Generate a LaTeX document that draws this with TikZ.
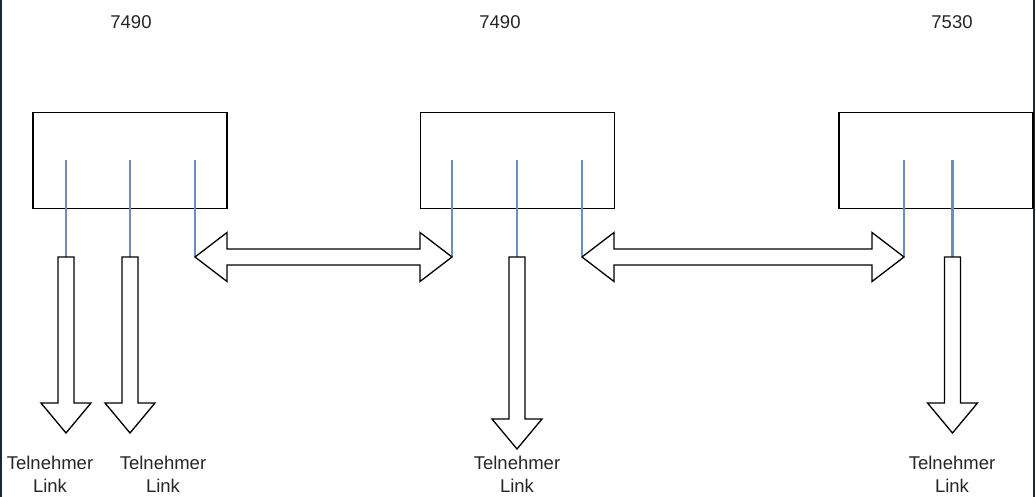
\documentclass[tikz,border=0pt]{standalone}
\usepackage{fontspec}
\setmainfont{Liberation Sans}
\usepackage{xcolor}
\usepackage{tikz}
\usetikzlibrary{calc}

\definecolor{portblue}{HTML}{6C8EBF}
\definecolor{framenavy}{HTML}{1C2535}

\tikzset{
  unit/.style={draw,line width=1.4pt,minimum width=194pt,minimum height=96pt,inner sep=0pt},
  port/.style={portblue,line width=2.6pt},
  blockarrow/.style={draw=black,line width=1.3pt,fill=white,line join=miter},
  lbl/.style={text=black!85,font=\fontsize{18.5}{23}\selectfont,align=center,inner sep=0pt}
}

% block arrow pointing down from #1, shaft length #2
\newcommand{\linkarrow}[2]{%
  \draw[blockarrow] (#1) ++(-8,0) -- ++(0,#2) -- ++(-17,0) -- ++(25,30)
    -- ++(25,-30) -- ++(-17,0) -- ++(0,-#2) -- cycle;}
% double block arrow between #1 and #2
\newcommand{\trunkarrow}[2]{%
  \draw[blockarrow] (#1) -- ($(#1)+(32,-24.5)$) -- ($(#1)+(32,-8)$)
    -- ($(#2)+(-32,-8)$) -- ($(#2)+(-32,-24.5)$) -- (#2)
    -- ($(#2)+(-32,24.5)$) -- ($(#2)+(-32,8)$) -- ($(#1)+(32,8)$)
    -- ($(#1)+(32,24.5)$) -- cycle;}

\begin{document}
\begin{tikzpicture}[x=1pt,y=-1pt]
    \useasboundingbox (0,0) rectangle (1036,497);
    \draw[framenavy,line width=2.5pt] (1,0) -- (1,497);
    \draw[framenavy,line width=2.5pt] (1034,0) -- (1034,497);

    % switches
    \node[unit] (sw1) at (130,160.5) {};
    \node[unit] (sw2) at (517.5,160.5) {};
    \node[unit] (sw3) at (936,160.5) {};
    \node[lbl] (t1) at (131,22) {7490};
    \node[lbl] (t2) at (500,22) {7490};
    \node[lbl] (t3) at (952,22) {7530};

    % ports: top and bottom ends
    \foreach \n/\u in {a/66,b/130,c/195,d/452,e/517,f/582,g/904,h/952.5} {
      \coordinate (\n top) at (\u,160.5);
      \coordinate (\n) at (\u,257);
      \draw[port] (\n top) -- (\n);
    }

    % uplinks between switches
    \trunkarrow{c}{d}
    \trunkarrow{f}{g}

    % subscriber links
    \linkarrow{a}{146}
    \linkarrow{b}{146}
    \linkarrow{e}{162}
    \linkarrow{h}{146}
    \node[lbl] (l1) at (50,474) {Telnehmer\\Link};
    \node[lbl] (l2) at (163,474) {Telnehmer\\Link};
    \node[lbl] (l3) at (517,474) {Telnehmer\\Link};
    \node[lbl] (l4) at (952,474) {Telnehmer\\Link};
\end{tikzpicture}
\end{document}
